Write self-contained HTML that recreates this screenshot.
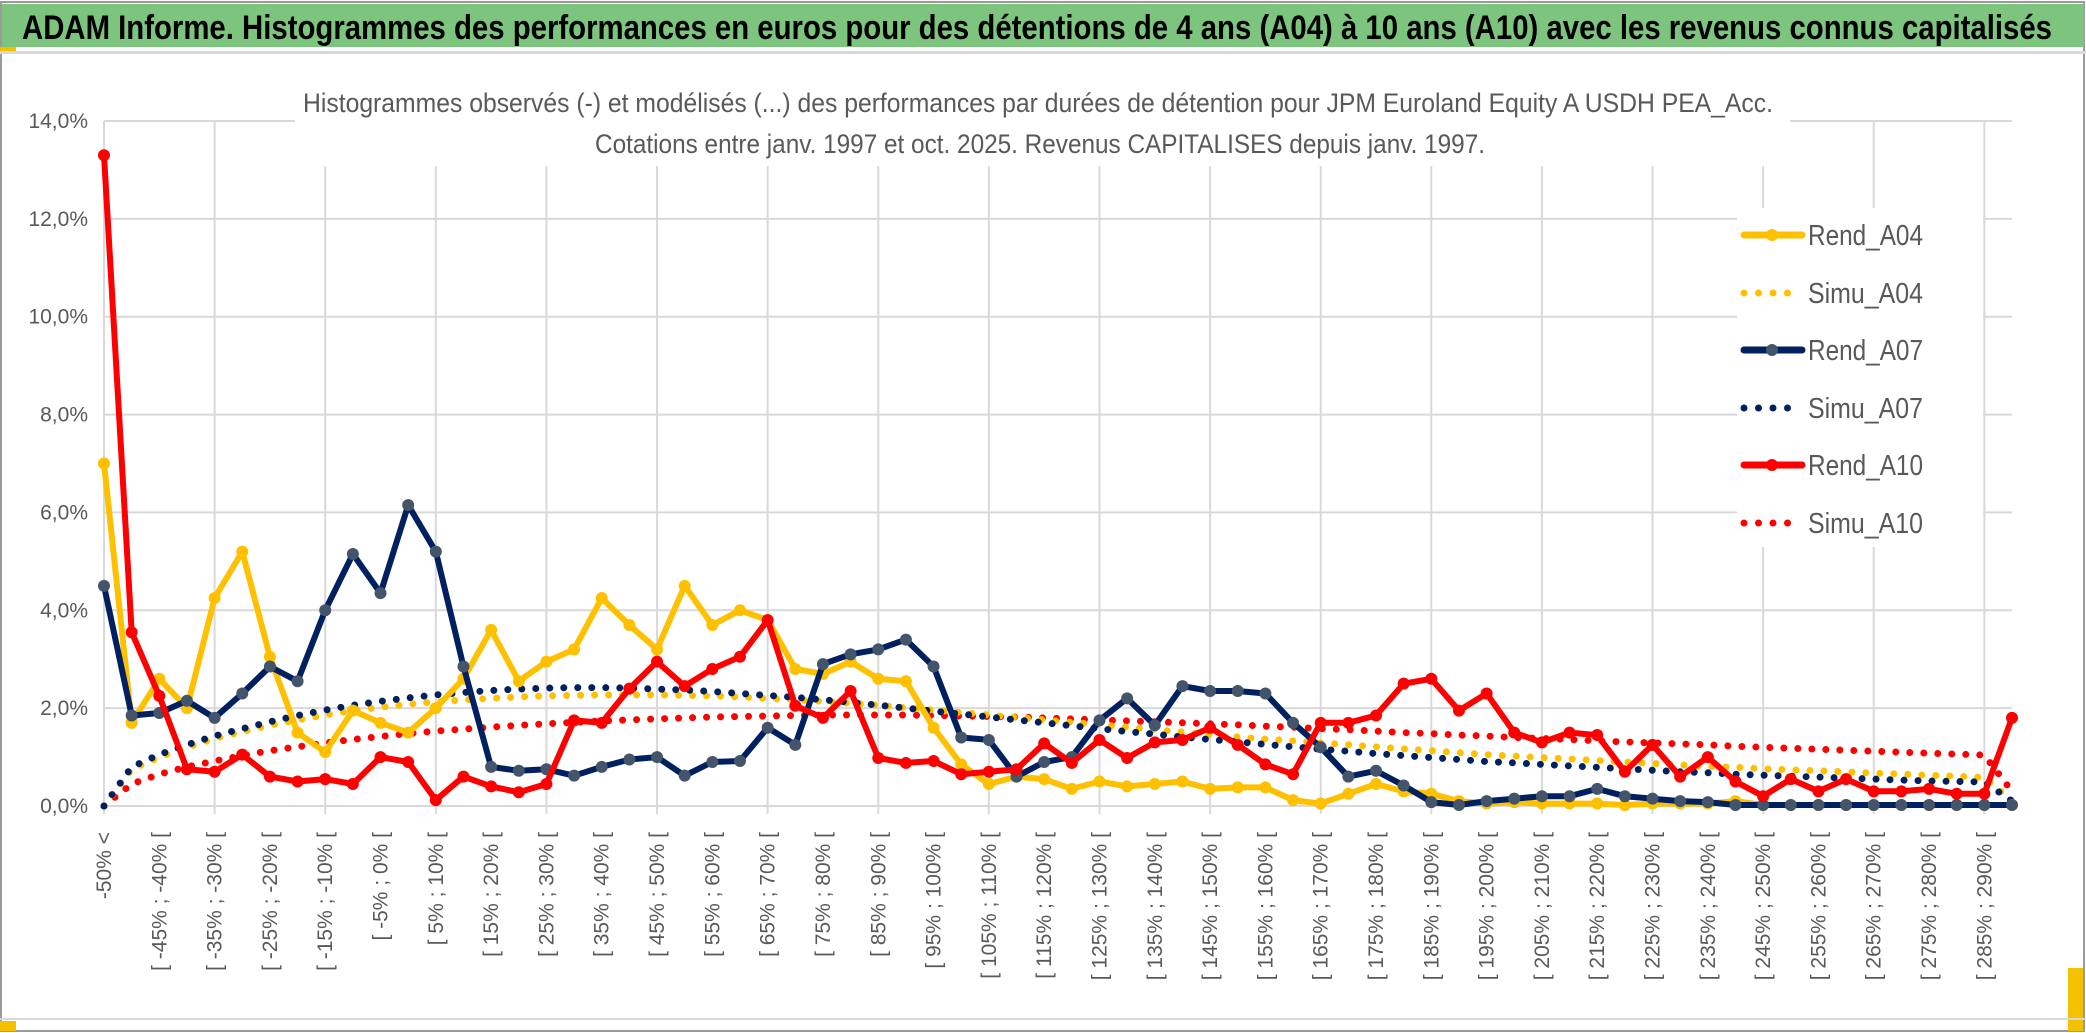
<!DOCTYPE html>
<html><head><meta charset="utf-8"><style>
body{margin:0;background:#fff;width:2086px;height:1033px;overflow:hidden}
svg{display:block;font-family:"Liberation Sans Narrow","Liberation Sans",sans-serif}
</style></head><body>
<svg id="chart" width="2086" height="1033" viewBox="0 0 2086 1033" xmlns="http://www.w3.org/2000/svg">
<rect x="0" y="0" width="2086" height="1033" fill="#fff"/>
<rect x="1" y="2" width="2083" height="1029" fill="none" stroke="#9a9a9a" stroke-width="2"/>
<rect x="2" y="4" width="2082" height="43" fill="#7dc57f"/>
<rect x="0" y="51" width="2086" height="3" fill="#d9d9d9"/>
<rect x="0" y="47" width="16" height="4" fill="#f5c000"/>
<rect x="0" y="1021" width="16" height="10" fill="#f5c000"/>
<rect x="2068" y="968" width="15" height="63" fill="#f5c000"/>
<rect x="0" y="1018" width="2086" height="2" fill="#d9d9d9"/>
<text x="22" y="39" font-size="34" font-weight="bold" fill="#000" textLength="2030" lengthAdjust="spacingAndGlyphs">ADAM Informe. Histogrammes des performances en euros pour des détentions de 4 ans (A04) à 10 ans (A10) avec les revenus connus capitalisés</text>
<g id="grid"></g>
<rect x="295" y="84" width="1495" height="82" fill="#fff"/>
<text x="1038" y="112" font-size="27" fill="#595959" text-anchor="middle" textLength="1470" lengthAdjust="spacingAndGlyphs">Histogrammes observés (-) et modélisés (...) des performances par durées de détention pour JPM Euroland Equity A USDH PEA_Acc.</text>
<text x="1040" y="153" font-size="27" fill="#595959" text-anchor="middle" textLength="890" lengthAdjust="spacingAndGlyphs">Cotations entre janv. 1997 et oct. 2025. Revenus CAPITALISES depuis janv. 1997.</text>
<g id="yaxis"></g>
<g id="xaxis"></g>
<g id="series"></g>
<g id="legend">
<rect x="1737" y="208" width="246" height="339" fill="#fff"/>
</g>
</svg>
<script>
const yTicks = [0,2,4,6,8,10,12,14];
const rendA04 = [7.0,1.7,2.6,2.0,4.25,5.2,3.05,1.5,1.1,1.95,1.7,1.5,2.0,2.6,3.6,2.55,2.95,3.2,4.25,3.7,3.2,4.5,3.7,4.0,3.8,2.8,2.7,2.95,2.6,2.55,1.6,0.85,0.45,0.6,0.55,0.35,0.5,0.4,0.45,0.5,0.35,0.38,0.38,0.12,0.05,0.25,0.45,0.3,0.25,0.1,0.05,0.08,0.05,0.05,0.05,0.02,0.05,0.05,0.05,0.1,0.02,0.02,0.02,0.02,0.02,0.02,0.02,0.02,0.02,0.02];
const rendA07 = [4.5,1.85,1.9,2.15,1.8,2.3,2.85,2.55,4.0,5.15,4.35,6.15,5.2,2.85,0.8,0.72,0.75,0.62,0.8,0.95,1.0,0.62,0.9,0.92,1.6,1.25,2.9,3.1,3.2,3.4,2.85,1.4,1.35,0.6,0.9,1.0,1.75,2.2,1.65,2.45,2.35,2.35,2.3,1.7,1.2,0.6,0.72,0.42,0.08,0.02,0.1,0.15,0.2,0.2,0.35,0.2,0.15,0.1,0.08,0.02,0.02,0.02,0.02,0.02,0.02,0.02,0.02,0.02,0.02,0.02];
const rendA10 = [13.3,3.55,2.25,0.75,0.7,1.05,0.6,0.5,0.55,0.45,1.0,0.9,0.12,0.6,0.4,0.28,0.45,1.75,1.7,2.4,2.95,2.45,2.8,3.05,3.8,2.05,1.8,2.35,0.98,0.88,0.92,0.65,0.7,0.75,1.28,0.88,1.35,0.98,1.3,1.35,1.6,1.25,0.85,0.65,1.7,1.7,1.85,2.5,2.6,1.95,2.3,1.5,1.3,1.5,1.45,0.7,1.25,0.6,1.0,0.5,0.2,0.55,0.3,0.55,0.3,0.3,0.35,0.25,0.25,1.8];
const simuA04 = [0,0.75,1.0,1.2,1.38,1.52,1.65,1.76,1.86,1.95,2.02,2.08,2.13,2.17,2.2,2.23,2.25,2.26,2.27,2.27,2.27,2.26,2.25,2.23,2.2,2.17,2.14,2.1,2.06,2.01,1.96,1.91,1.86,1.81,1.76,1.71,1.66,1.61,1.56,1.51,1.46,1.41,1.37,1.33,1.29,1.25,1.21,1.17,1.13,1.09,1.05,1.02,0.99,0.96,0.93,0.9,0.87,0.84,0.81,0.79,0.76,0.74,0.72,0.7,0.67,0.65,0.63,0.61,0.58,0.1];
const simuA07 = [0,0.8,1.05,1.25,1.43,1.58,1.72,1.85,1.96,2.06,2.14,2.21,2.27,2.32,2.36,2.39,2.41,2.42,2.42,2.41,2.39,2.37,2.34,2.3,2.26,2.22,2.17,2.12,2.06,2.0,1.94,1.88,1.82,1.76,1.7,1.64,1.58,1.52,1.47,1.41,1.36,1.31,1.26,1.21,1.16,1.12,1.07,1.03,0.99,0.95,0.91,0.88,0.85,0.82,0.79,0.76,0.73,0.7,0.68,0.65,0.63,0.61,0.59,0.57,0.55,0.53,0.51,0.5,0.49,0.1];
const simuA10 = [0,0.45,0.65,0.8,0.92,1.03,1.13,1.21,1.29,1.36,1.42,1.48,1.53,1.57,1.61,1.65,1.68,1.71,1.74,1.76,1.78,1.8,1.82,1.83,1.84,1.85,1.86,1.86,1.86,1.86,1.85,1.84,1.83,1.82,1.8,1.78,1.76,1.74,1.72,1.7,1.68,1.66,1.63,1.61,1.58,1.56,1.53,1.5,1.48,1.45,1.43,1.4,1.38,1.36,1.33,1.31,1.29,1.27,1.25,1.22,1.2,1.18,1.16,1.14,1.12,1.1,1.08,1.06,1.04,0.3];
const categories = [];
categories.push('-50% <');
for (let k = 1; k < 70; k++) { const a = -50 + 5*(k-1); categories.push('[ ' + a + '% ; ' + (a+5) + '% ['); }

const NS = 'http://www.w3.org/2000/svg';
const X0 = 104, X1 = 2012, Y0 = 806, YTOP = 121, YMAX = 14;
const xs = i => X0 + i * (X1 - X0) / (categories.length - 1);
const ys = v => Y0 - v / YMAX * (Y0 - YTOP);
function mk(tag, attrs, parent){ const e = document.createElementNS(NS, tag); for (const k in attrs) e.setAttribute(k, attrs[k]); parent.appendChild(e); return e; }

const grid = document.getElementById('grid');
yTicks.forEach(t => {
  const l = mk('line', {x1:X0, x2:X1, y1:ys(t), y2:ys(t), stroke:'#d9d9d9', 'stroke-width':2}, grid);
  
  
});
for (let i = 0; i < categories.length; i += 4) {
  const l = mk('line', {x1:xs(i), x2:xs(i), y1:YTOP, y2:Y0 + 8, stroke:'#d9d9d9', 'stroke-width':2}, grid);
  
  
}
const yaxis = document.getElementById('yaxis');
yTicks.forEach(t => {
  const tx = mk('text', {x:88, y:ys(t) + 7, 'font-size':21, fill:'#595959', 'text-anchor':'end'}, yaxis);
  
  
  tx.textContent = t.toFixed(1).replace('.', ',') + '%';
});
const xaxis = document.getElementById('xaxis');
for (let i = 0; i < categories.length; i += 2) {
  const x = xs(i) + 7, y = 832;
  const tx = mk('text', {x:x, y:y, 'font-size':21, fill:'#595959', 'text-anchor':'end', transform:'rotate(-90 ' + x + ' ' + y + ')', 'font-family':'Liberation Sans, sans-serif'}, xaxis);
  
  
  tx.textContent = categories[i];
}
const series = document.getElementById('series');
function pts(arr){ return arr.map((v,i) => xs(i).toFixed(1) + ',' + ys(v).toFixed(1)).join(' '); }
function dotted(arr, color, name){
  const p = mk('polyline', {points:pts(arr), fill:'none', stroke:color, 'stroke-width':7, 'stroke-linecap':'round', 'stroke-dasharray':'0 14'}, series);
  
  
}
function solid(arr, color, mcolor, name){
  const p = mk('polyline', {points:pts(arr), fill:'none', stroke:color, 'stroke-width':6, 'stroke-linejoin':'round'}, series);
  
  
  arr.forEach((v,i) => {
    const c = mk('circle', {cx:xs(i), cy:ys(v), r:6, fill:mcolor}, series);
    
    
  });
}
dotted(simuA10, '#ff0000', 'simu-a10-line');
dotted(simuA04, '#ffc000', 'simu-a04-line');
dotted(simuA07, '#002060', 'simu-a07-line');
solid(rendA04, '#ffc000', '#ffc000', 'rend-a04-line');
solid(rendA07, '#002060', '#44546a', 'rend-a07-line');
solid(rendA10, '#ff0000', '#ff0000', 'rend-a10-line');

const legend = document.getElementById('legend');
const legNames = ['Rend_A04','Simu_A04','Rend_A07','Simu_A07','Rend_A10','Simu_A10'];
const legColors = ['#ffc000','#ffc000','#002060','#002060','#ff0000','#ff0000'];
const legMarker = ['#ffc000',null,'#44546a',null,'#ff0000',null];
const legY = [235,293,350,408,465,523];
legNames.forEach((n,i) => {
  const y = legY[i];
  if (legMarker[i]) {
    const l = mk('line', {x1:1744, x2:1802, y1:y, y2:y, stroke:legColors[i], 'stroke-width':7, 'stroke-linecap':'round'}, legend);
    
    
    const c = mk('circle', {cx:1772, cy:y, r:6, fill:legMarker[i]}, legend);
    
    
  } else {
    const l = mk('line', {x1:1744, x2:1802, y1:y, y2:y, stroke:legColors[i], 'stroke-width':7, 'stroke-linecap':'round', 'stroke-dasharray':'0 14.5'}, legend);
    
    
  }
  const t = mk('text', {x:1808, y:y + 10, 'font-size':29, fill:'#595959', textLength:115, lengthAdjust:'spacingAndGlyphs'}, legend);
  
  
  t.textContent = n;
});
</script>
</body></html>
